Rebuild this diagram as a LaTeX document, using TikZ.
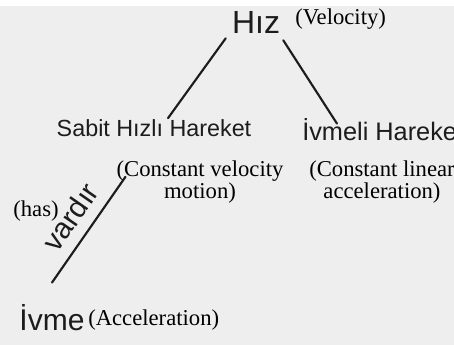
\documentclass[tikz,border=0pt]{standalone}
\usepackage{fontspec}
\setmainfont{Liberation Serif}
\newfontfamily\handfont{Liberation Sans}
\begin{document}
\begin{tikzpicture}[x=0.75pt,y=-0.75pt,
  note/.style={font=\fontsize{17}{16.5}\selectfont,inner sep=0pt,align=center},
  hand/.style={font=\handfont\fontsize{#1}{#1}\selectfont,text=ink,inner sep=0pt},
  link/.style={ink,line width=1.6pt,line cap=round}]
\definecolor{paper}{HTML}{EEEEEE}\definecolor{ink}{HTML}{1C1C1C}
\useasboundingbox (0,0) rectangle (454,345);\clip (0,0) rectangle (454,345);
\fill[paper] (0,0) rectangle (454,345);\fill[white] (0,0) rectangle (454,6);
% concepts (handwritten) and their translations
\node[hand=24] (hiz) at (256,22) {Hız};\node[note,anchor=west] (hizlbl) at (295,19) {(Velocity)};
\node[hand=17.5] (sabit) at (154,128) {Sabit Hızlı Hareket};\node[note] (sabitlbl) at (200,182) {(Constant velocity\\motion)};
\node[hand=19,anchor=west] (ivmeli) at (302,130) {İvmeli Hareket};\node[note] (ivmelilbl) at (382,182) {(Constant linear\\acceleration)};
\node[hand=22.5] (ivme) at (52,318) {İvme};\node[note,anchor=west] (ivmelbl) at (88,320) {(Acceleration)};
% links
\draw[link] ([shift={(-6,5)}]hiz.south west) -- ([shift={(14,-1)}]sabit.north);
\draw[link] ([shift={(3,7)}]hiz.south east) -- ([shift={(35,5)}]ivmeli.north west);
\draw[link] ([shift={(0,-22)}]ivme.north) -- node[hand=22,sloped,above=8pt,pos=.5] (vardir) {vardır} ([shift={(69,40)}]sabit.south west);
\node[note] (has) at (36,211) {(has)};
\end{tikzpicture}
\end{document}
